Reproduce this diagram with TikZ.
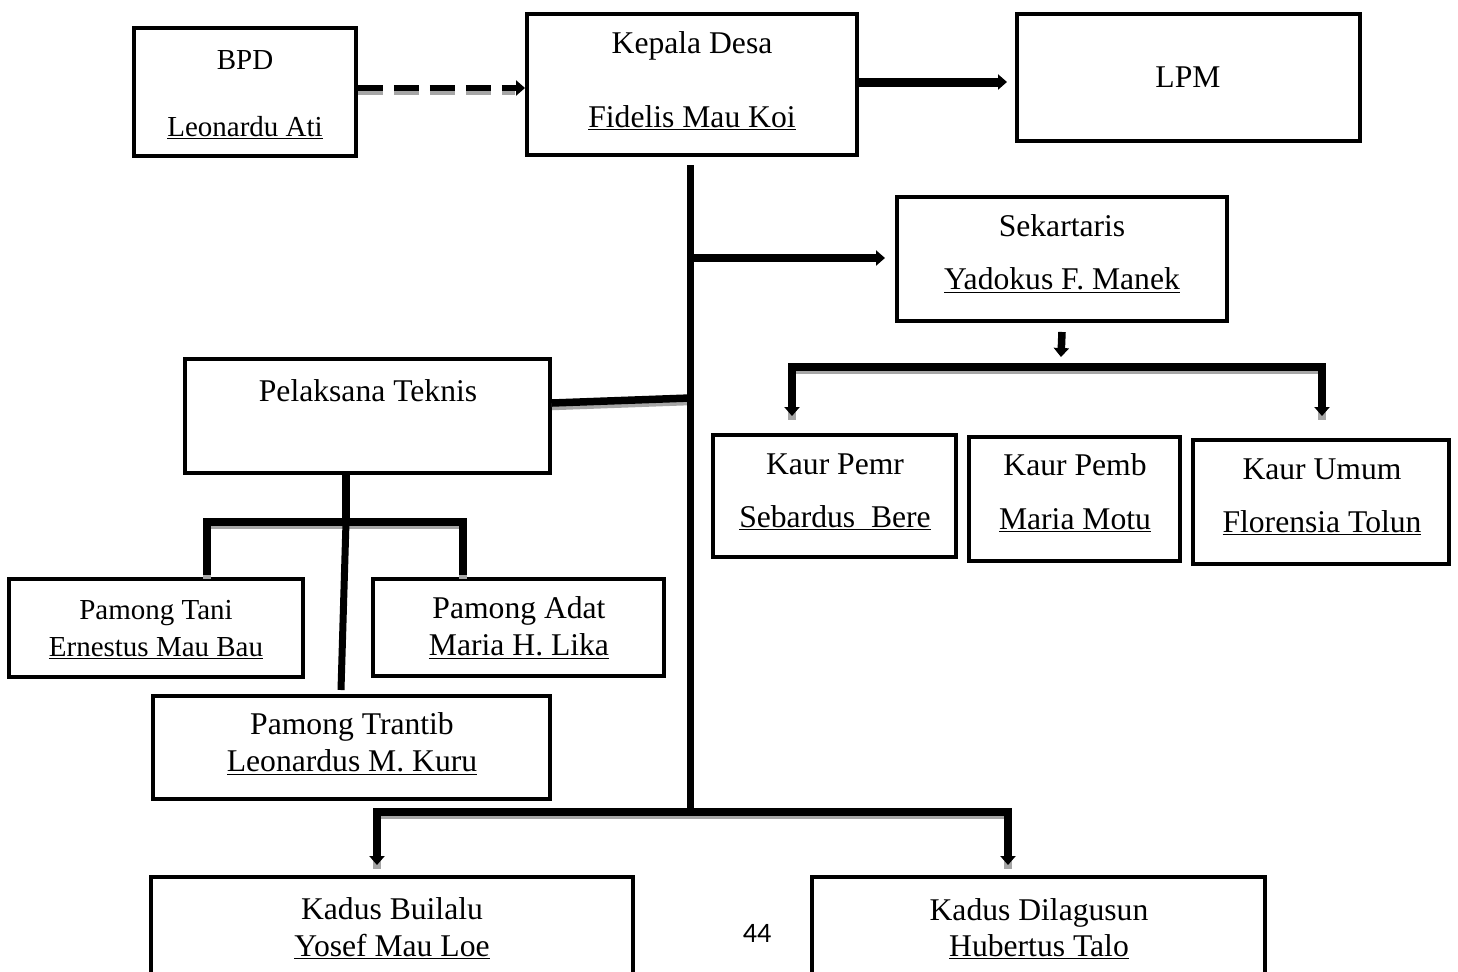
\documentclass[tikz,border=0pt]{standalone}
\usepackage{fontspec}
\setmainfont{Liberation Serif}
\newfontfamily\pagefont{Carlito}
\usetikzlibrary{arrows.meta,positioning,calc}

\begin{document}
\begin{tikzpicture}[
    x=0.02cm, y=-0.02cm,
    box/.style={draw, line width=0.08cm, inner sep=0pt},
    txt/.style={font=\fontsize{18}{22}\selectfont, anchor=base, inner sep=0pt},
    small txt/.style={font=\fontsize{16.5}{20}\selectfont, anchor=base, inner sep=0pt},
    conn/.style={line width=0.15cm},
    shade/.style={draw=black!35, line width=0.15cm, transform canvas={yshift=-0.07cm}},
    tip/.tip={Triangle[length=0.18cm, width=0.3cm]}
  ]
  \useasboundingbox (0,0) rectangle (1458,971);
  \clip (0,0) rectangle (1458,971);

  % Boxes
  \node[box, minimum width=4.44cm, minimum height=2.56cm] (bpd) at (245,92) {};
  \node[box, minimum width=6.6cm, minimum height=2.82cm] (kepala) at (692,84.5) {};
  \node[box, minimum width=6.86cm, minimum height=2.54cm] (lpm) at (1188.5,77.5) {};
  \node[box, minimum width=6.6cm, minimum height=2.48cm] (sek) at (1062,259) {};
  \node[box, minimum width=7.3cm, minimum height=2.28cm] (pel) at (367.5,416) {};
  \node[box, minimum width=4.86cm, minimum height=2.44cm] (kpemr) at (834.5,496) {};
  \node[box, minimum width=4.22cm, minimum height=2.48cm] (kpemb) at (1074.5,499) {};
  \node[box, minimum width=5.12cm, minimum height=2.48cm] (kumum) at (1321,502) {};
  \node[box, minimum width=5.88cm, minimum height=1.96cm] (ptani) at (156,628) {};
  \node[box, minimum width=5.82cm, minimum height=1.94cm] (padat) at (518.5,627.5) {};
  \node[box, minimum width=7.94cm, minimum height=2.06cm] (ptrantib) at (351.5,747.5) {};
  \node[box, minimum width=9.64cm, minimum height=2.4cm] (kbuilalu) at (392,937) {};
  \node[box, minimum width=9.06cm, minimum height=2.4cm] (kdilag) at (1038.5,937) {};

  % Texts
  \node[small txt] (bpd-t) at (245,69) {BPD};
  \node[small txt] (bpd-n) at (245,136) {\underline{Leonardu Ati}};
  \node[txt] (kepala-t) at (692,53) {Kepala Desa};
  \node[txt] (kepala-n) at (692,127) {\underline{Fidelis Mau Koi}};
  \node[txt] (lpm-t) at (1188,87) {LPM};
  \node[txt] (sek-t) at (1062,236) {Sekartaris};
  \node[txt] (sek-n) at (1062,289) {\underline{Yadokus F. Manek}};
  \node[txt] (pel-t) at (368,401) {Pelaksana Teknis};
  \node[txt] (kpemr-t) at (835,474) {Kaur Pemr};
  \node[txt] (kpemr-n) at (835,527) {\underline{Sebardus\ \ Bere}};
  \node[txt] (kpemb-t) at (1075,475) {Kaur Pemb};
  \node[txt] (kpemb-n) at (1075,529) {\underline{Maria Motu}};
  \node[txt] (kumum-t) at (1322,479) {Kaur Umum};
  \node[txt] (kumum-n) at (1322,532) {\underline{Florensia Tolun}};
  \node[small txt] (ptani-t) at (156,619) {Pamong Tani};
  \node[small txt] (ptani-n) at (156,656) {\underline{Ernestus Mau Bau}};
  \node[txt] (padat-t) at (519,618) {Pamong Adat};
  \node[txt] (padat-n) at (519,655) {\underline{Maria H. Lika}};
  \node[txt] (ptrantib-t) at (352,734) {Pamong Trantib};
  \node[txt] (ptrantib-n) at (352,771) {\underline{Leonardus M. Kuru}};
  \node[txt] (kbuilalu-t) at (392,919) {Kadus Builalu};
  \node[txt] (kbuilalu-n) at (392,956) {\underline{Yosef Mau Loe}};
  \node[txt] (kdilag-t) at (1039,920) {Kadus Dilagusun};
  \node[txt] (kdilag-n) at (1039,956) {\underline{Hubertus Talo}};
  \node[font=\pagefont\fontsize{16}{19}\selectfont, anchor=base, inner sep=0pt] (page) at (757,942) {44};

  % Connector points
  \coordinate (lpm in) at (1007,82);
  \coordinate (trunk top) at (690,165);
  \coordinate (trunk end) at (690,812);
  \coordinate (sek in) at (885,258);
  \coordinate (pel join) at (690,398);
  \coordinate (sek down) at (1061,357);
  \coordinate (kaur bar) at (1061,367);
  \coordinate (kaur left) at (792,416);
  \coordinate (kaur right) at (1322,416);
  \coordinate (pel stem) at (346,473);
  \coordinate (pel hub) at (346,522);
  \coordinate (tani leg) at (207,575);
  \coordinate (adat leg) at (463,575);
  \coordinate (trantib top) at (341,690);
  \coordinate (builalu in) at (377,865);
  \coordinate (dilag in) at (1008,865);

  % Shadows of the bars
  \draw[shade, line width=0.12cm, dash pattern=on 0.5cm off 0.22cm] (bpd.east |- 0,88) -- ([xshift=-0.2cm]kepala.west |- 0,88);
  \draw[shade] (pel.east |- 0,403) -- (pel join);
  \draw[shade] (kaur left) |- (kaur bar) -| (kaur right);
  \draw[shade] (tani leg) |- (pel hub) -| (adat leg);
  \draw[shade] (builalu in) |- (trunk end) -| (dilag in);

  % Connectors
  \draw[conn, line width=0.12cm, dash pattern=on 0.5cm off 0.22cm, -tip] (bpd.east |- 0,88) -- (kepala.west |- 0,88);
  \draw[conn, line width=0.18cm, -tip] (kepala.east |- 0,82) -- (lpm in);
  \draw[conn, line width=0.14cm] (trunk top) -- (trunk end);
  \draw[conn, -tip] (trunk top |- sek in) -- (sek in);
  \draw[conn] (pel.east |- 0,403) -- (pel join);
  \draw[conn, -tip] ([yshift=-0.18cm]sek.south) -- (sek down);
  \draw[conn, tip-tip] (kaur left) |- (kaur bar) -| (kaur right);
  \draw[conn] (pel stem) -- (pel hub);
  \draw[conn] (tani leg) |- (pel hub) -| (adat leg);
  \draw[conn, line width=0.14cm] (pel hub) -- (trantib top);
  \draw[conn, tip-tip] (builalu in) |- (trunk end) -| (dilag in);
\end{tikzpicture}
\end{document}
